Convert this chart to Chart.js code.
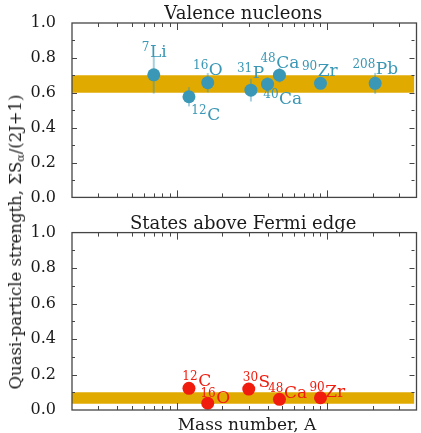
<!DOCTYPE html>
<html>
<head>
<meta charset="utf-8">
<script src="https://cdn.jsdelivr.net/npm/chart.js@4.4.1/dist/chart.umd.min.js"></script>
<style>
    html, body { margin: 0; padding: 0; background: #fff; overflow: hidden; }
    #wrap { position: relative; width: 421px; height: 433px; }
    #topChart { position: absolute; left: 0; top: 0; }
    #botChart { position: absolute; left: 0; top: 215px; }
    .axis-label { position: absolute; white-space: nowrap; font-family: 'DejaVu Serif'; color: #1a1a1a; line-height: 1; }
    #ylab { left: 17px; top: 242px; font-size: 16.5px; transform: translate(-50%, -50%) rotate(-90deg); }
    #ylab sub { font-size: 11px; vertical-align: -3px; }
    #xlab { left: 247px; top: 416px; font-size: 17px; transform: translateX(-50%); }
</style>
</head>
<body>
<div id="wrap">
    <canvas id="topChart" width="421" height="215"></canvas>
    <canvas id="botChart" width="421" height="218"></canvas>
    <div id="ylab" class="axis-label">Quasi-particle strength, ΣS<sub>α</sub>/(2J+1)</div>
    <div id="xlab" class="axis-label">Mass number, A</div>
</div>
<script>
// valence nucleons (top panel)
const valSymbols = ['Li', 'C', 'O', 'P', 'Ca', 'Ca', 'Zr', 'Pb'];
const valMass = [7, 12, 16, 31, 40, 48, 90, 208];
const valStrength = [0.703, 0.577, 0.658, 0.615, 0.649, 0.701, 0.654, 0.654];
const valError = [0.108, 0.055, 0.055, 0.065, 0.04, 0.042, 0.03, 0.06];
const valBand = [0.60, 0.70];

// states above fermi edge (bottom panel)
const abvSymbols = ['C', 'O', 'S', 'Ca', 'Zr'];
const abvMass = [12, 16, 30, 48, 90];
const abvStrength = [0.122, 0.038, 0.118, 0.060, 0.069];
const abvBand = [0.035, 0.10];

const massRange = [2, 380];
const strengthRange = [0, 1];

// label placement, px from the marker: [dx to left edge, dy to baseline]
const valLabelPos = [[-12, -18], [2.4, 23.3], [-14.7, -7.3], [-14, -11.7], [-4.3, 20], [-19, -7.4], [-18.6, -7.3], [-22.7, -9]];
const abvLabelPos = [[-6.6, -2.3], [-7.3, 0], [-6, -1.7], [-11.3, -1], [-11, -1]];

const BLUE = '#3a97b5';
const RED = '#f01d0e';
const GOLD = '#e0aa00';
const SERIF = '"DejaVu Serif", serif';

function drawIsotope(ctx, x, y, mass, sym, color) {
    ctx.fillStyle = color;
    ctx.textAlign = 'left';
    ctx.textBaseline = 'alphabetic';
    ctx.font = '12px ' + SERIF;
    ctx.fillText(String(mass), x, y - 6);
    const w = ctx.measureText(String(mass)).width;
    ctx.font = '17px ' + SERIF;
    ctx.fillText(sym, x + w + 0.5, y);
}

const decor = {
    id: 'decor',
    beforeDatasetsDraw(chart, args, opts) {
        if (!opts.errors) return;
        const { ctx } = chart;
        const xs = chart.scales.x, ys = chart.scales.y;
        ctx.save();
        ctx.strokeStyle = 'rgba(58,151,181,0.45)';
        ctx.lineWidth = 2;
        opts.mass.forEach((m, i) => {
            const px = xs.getPixelForValue(m);
            ctx.beginPath();
            ctx.moveTo(px, ys.getPixelForValue(opts.values[i] - opts.errors[i]));
            ctx.lineTo(px, ys.getPixelForValue(opts.values[i] + opts.errors[i]));
            ctx.stroke();
        });
        ctx.restore();
    },
    afterDatasetsDraw(chart, args, opts) {
        const { ctx, chartArea: a } = chart;
        const xs = chart.scales.x, ys = chart.scales.y;
        ctx.save();

        // isotope labels
        opts.mass.forEach((m, i) => {
            const px = xs.getPixelForValue(m);
            const py = ys.getPixelForValue(opts.values[i]);
            drawIsotope(ctx, px + opts.pos[i][0], py + opts.pos[i][1], m, opts.symbols[i], opts.color);
        });

        // frame
        ctx.strokeStyle = '#454545';
        ctx.lineWidth = 1.3;
        ctx.strokeRect(a.left, a.top, a.right - a.left + 2, a.bottom - a.top);

        // log ticks on top and bottom, pointing inward
        ctx.lineWidth = 1;
        for (let d = 0; d <= 3; d++) {
            for (let k = 1; k <= 9; k++) {
                const v = k * Math.pow(10, d);
                if (v <= xs.min || v >= xs.max) continue;
                const px = Math.round(xs.getPixelForValue(v)) + 0.5;
                const len = k === 1 ? 7 : 4;
                ctx.beginPath();
                ctx.moveTo(px, a.bottom); ctx.lineTo(px, a.bottom - len);
                ctx.moveTo(px, a.top); ctx.lineTo(px, a.top + len);
                ctx.stroke();
            }
        }
        // linear ticks left and right
        for (let j = 1; j < 10; j++) {
            const v = j / 10;
            const py = Math.round(ys.getPixelForValue(v)) + 0.5;
            const len = j % 2 === 0 ? 5 : 3;
            ctx.beginPath();
            ctx.moveTo(a.left, py); ctx.lineTo(a.left + len, py);
            ctx.moveTo(a.right, py); ctx.lineTo(a.right - len, py);
            ctx.stroke();
        }
        ctx.restore();
    }
};

function makeChart(canvasId, title, titlePad, titleLH, bottomPad, mass, values, band, color, extra) {
    return new Chart(document.getElementById(canvasId), {
        type: 'scatter',
        data: {
            datasets: [
                {
                    type: 'line',
                    order: 2,
                    data: massRange.map(m => ({ x: m, y: band[0] })),
                    borderWidth: 0, pointRadius: 0, fill: false
                },
                {
                    type: 'line',
                    order: 1,
                    data: massRange.map(m => ({ x: m, y: band[1] })),
                    borderWidth: 0, pointRadius: 0, fill: '-1', backgroundColor: GOLD
                },
                {
                    order: 0,
                    data: mass.map((m, i) => ({ x: m, y: values[i] })),
                    backgroundColor: color, borderWidth: 0, pointRadius: 6.5
                }
            ]
        },
        options: {
            responsive: false,
            animation: false,
            devicePixelRatio: 1,
            layout: { padding: { left: 0, right: 0, top: 0, bottom: bottomPad } },
            plugins: {
                legend: { display: false },
                tooltip: { enabled: false },
                filler: { drawTime: 'beforeDatasetsDraw' },
                title: {
                    display: true,
                    text: title,
                    fullSize: false,
                    color: '#1a1a1a',
                    font: { family: SERIF, size: 18, weight: 'normal', lineHeight: titleLH },
                    padding: titlePad
                },
                decor: Object.assign({ mass: mass, values: values, color: color }, extra)
            },
            scales: {
                x: {
                    type: 'logarithmic',
                    min: massRange[0], max: massRange[1],
                    display: false
                },
                y: {
                    min: strengthRange[0], max: strengthRange[1],
                    afterFit(scale) { scale.width = 72; },
                    grid: { display: false },
                    border: { display: false },
                    ticks: {
                        stepSize: 0.2,
                        padding: 8,
                        color: '#1a1a1a',
                        font: { family: SERIF, size: 16 },
                        callback: v => v.toFixed(1)
                    }
                }
            }
        },
        plugins: [decor]
    });
}

makeChart('topChart', 'Valence nucleons', { top: 5, bottom: 0 }, 1, 15,
    valMass, valStrength, valBand, BLUE,
    { errors: valError, symbols: valSymbols, pos: valLabelPos });

makeChart('botChart', 'States above Fermi edge', { top: 0, bottom: 0 }, 0.94, 23,
    abvMass, abvStrength, abvBand, RED,
    { symbols: abvSymbols, pos: abvLabelPos });
</script>
</body>
</html>
